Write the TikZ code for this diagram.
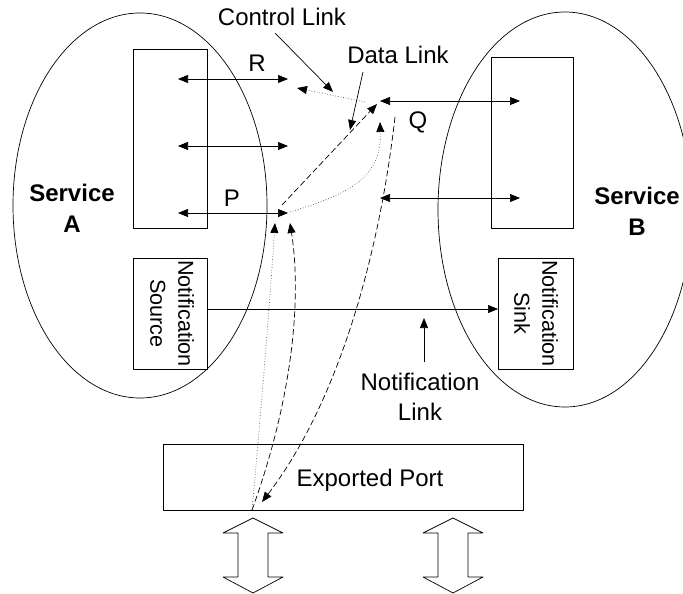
\documentclass[tikz,border=0pt]{standalone}
\usepackage{fontspec}
\setmainfont{Liberation Sans}
\usetikzlibrary{arrows.meta}
\tikzset{>={Triangle[length=10pt,width=8pt,color=black]},
every picture/.append style={
    line join=round,
    line width=.7pt
  },
box/.style={draw,inner sep=0pt,outer sep=0pt},
lbl/.style={font=\fontsize{24}{30}\selectfont,align=center,inner sep=0pt},
vlbl/.style={font=\fontsize{21.6}{28}\selectfont,align=center,inner sep=0pt,rotate=-90},
ctl/.style={dotted,gray!70!black},
dat/.style={dash pattern=on 6pt off 3pt}}

\begin{document}
\begin{tikzpicture}[x=1pt,y=-1pt]
        \useasboundingbox (0,0) rectangle (683,594);
        \clip (0,0) rectangle (683,594);
        % the two services
        \draw (140,205.5) ellipse (127 and 192.5);
        \draw (565,209.5) ellipse (127 and 197.5);
        \node [lbl,font=\fontsize{24}{31}\selectfont\bfseries] (svcA) at (72,208) {Service\\A};
        \node [lbl,font=\fontsize{24}{31}\selectfont\bfseries] (svcB) at (637,211) {Service\\B};
        \node [box,minimum width=74pt,minimum height=179pt] (portA) at (170,138.5) {};
        \node [box,minimum width=82pt,minimum height=171pt] (portB) at (532,142.5) {};
        \node [box,minimum width=74pt,minimum height=111pt] (srcA) at (170,313.5) {};
        \node [vlbl] (srcTxt) at (172,313.5) {Notification\\Source};
        \node [box,minimum width=75pt,minimum height=111pt] (sink) at (535.5,313.5) {};
        \node [vlbl] (sinkTxt) at (536,313.5) {Notification\\Sink};
        \node [box,minimum width=360pt,minimum height=66pt] (export) at (343,477) {};
        \node [lbl] (expTxt) at (370,480) {Exported Port};
        % port ends
        \coordinate (aR) at (288,79);
        \coordinate (aM) at (288,146);
        \coordinate (aP) at (288,213);
        \coordinate (bQ) at (380,101);
        \coordinate (bL) at (380,198);
        \coordinate (expO) at (252,510);
        \path [<->] (178,79) edge (aR);
        \path [<->] (178,146) edge (aM);
        \path [<->] (178,213) edge (aP);
        \path [<->] (bQ) edge (520,101);
        \path [<->] (bL) edge (520,198);
        \node [lbl] (R) at (257,63) {R};
        \node [lbl] (P) at (232,198) {P};
        \node [lbl] (Q) at (418,122) {Q};
        % links
        \draw [ctl,->] (365,102) -- (297,88);
        \draw [dat,->] (282,205) -- (377,104);
        \draw [ctl,->] (290,212) .. controls (345,195) and (382,180) .. (380,122);
        \draw [dat,->] (395,117) .. controls (380,250) and (340,400) .. (262,502);
        \draw [ctl,->] (expO) .. controls (262,400) and (270,300) .. (275,223);
        \draw [dat,->] (expO) .. controls (292,400) and (302,300) .. (290,223);
        \draw [->] (srcA.east |- 0,309) -- (sink.west |- 0,309);
        % callouts
        \node [lbl] (ctlTxt) at (282,17) {Control Link};
        \node [lbl] (datTxt) at (398,55) {Data Link};
        \node [lbl] (ntfTxt) at (420,397) {Notification\\Link};
        \path [->] (275,33) edge (333,92);
        \path [->] (363,72) edge (350,130);
        \path [->] (424,362) edge (424,318);
        % exported arrows
        \foreach \x in {253,453}
            \draw (\x,518) -- (\x+30,533) -- (\x+15,533) -- (\x+15,577) -- (\x+30,577) -- (\x,593)
                -- (\x-30,577) -- (\x-15,577) -- (\x-15,533) -- (\x-30,533) -- cycle;
    \end{tikzpicture}
\end{document}
